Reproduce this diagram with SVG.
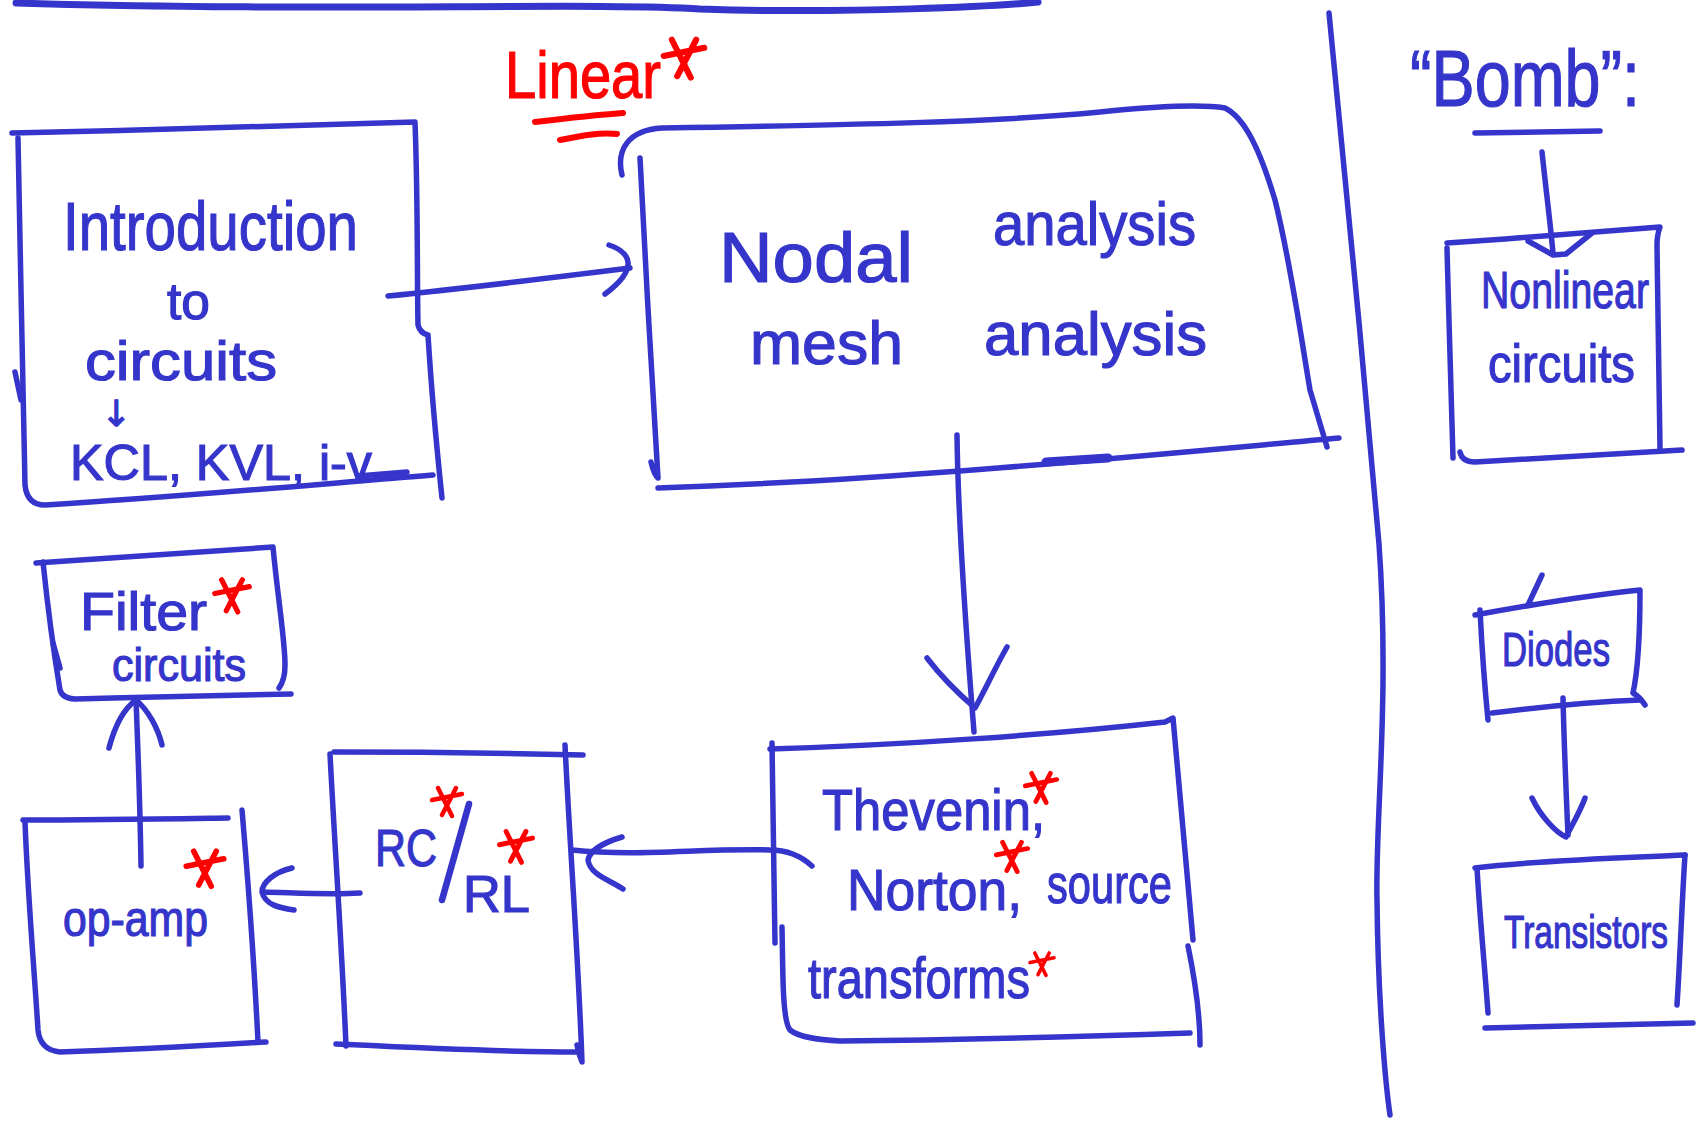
<svg xmlns="http://www.w3.org/2000/svg" width="1705" height="1121" viewBox="0 0 1705 1121">
<style>
.ln{fill:none;stroke:#3535CB;stroke-width:5.5;stroke-linecap:round;stroke-linejoin:round}
.t{font-family:"Liberation Sans",Arial,sans-serif;fill:#3535CB;stroke:#3535CB;stroke-width:1.2}
.rd{fill:none;stroke:#FF0000;stroke-width:6;stroke-linecap:round;stroke-linejoin:round}
.star{fill:none;stroke:#FF0000;stroke-width:4.5;stroke-linecap:round;stroke-linejoin:round}
</style>
<defs>
  <g id="star">
    <path class="star" d="M-15 -3 L15 -9 M-9 -15 L5 13 M9 -15 L-5 12"/>
  </g>
</defs>
<rect width="1705" height="1121" fill="#ffffff"/>

<g id="frame">
  <path class="ln" style="stroke-width:7" d="M16 3 C300 12, 600 2, 700 9 C850 14, 1000 6, 1038 2"/>
  <path class="ln" d="M1329 13 C1340 120, 1365 380, 1379 544 C1390 700, 1375 820, 1377 900 C1378 1000, 1385 1080, 1390 1115"/>
</g>

<g id="label-linear">
  <text class="t" x="505" y="98" font-size="66" textLength="156" lengthAdjust="spacingAndGlyphs" style="fill:#FF0000;stroke:#FF0000">Linear</text>
  <use href="#star" transform="translate(684 60) scale(1.35)"/>
  <path class="rd" d="M535 122 C560 119, 595 115, 623 113"/>
  <path class="rd" d="M560 140 C580 136, 600 132, 617 134"/>
</g>

<g id="label-bomb">
  <text class="t" x="1410" y="106" font-size="80" textLength="230" lengthAdjust="spacingAndGlyphs">“Bomb”:</text>
  <path class="ln" d="M1475 133 C1520 132, 1560 132, 1600 131"/>
</g>

<g id="node-intro">
  <path class="ln" d="M12 133 C150 130, 300 126, 415 122 C418 200, 417 280, 418 325 Q420 333, 428 335 C432 400, 438 460, 442 498"/>
  <path class="ln" d="M18 138 C20 250, 23 380, 25 485 Q27 505, 45 505 C180 497, 320 484, 433 475"/>
  <path class="ln" d="M15 372 L21 400"/>
  <path class="ln" d="M358 476 L407 472"/>
  <text class="t" x="63" y="250" font-size="68" textLength="295" lengthAdjust="spacingAndGlyphs">Introduction</text>
  <text class="t" x="167" y="319" font-size="52" textLength="43" lengthAdjust="spacingAndGlyphs">to</text>
  <text class="t" x="85" y="380" font-size="56" textLength="192" lengthAdjust="spacingAndGlyphs">circuits</text>
  <text class="t" x="116" y="426" font-size="36" text-anchor="middle" style="font-family:'DejaVu Sans',sans-serif">↓</text>
  <text class="t" x="70" y="480" font-size="50" textLength="302" lengthAdjust="spacingAndGlyphs">KCL, KVL, i-v</text>
</g>

<g id="node-nodal">
  <path class="ln" d="M622 175 C616 150, 628 130, 662 128 C850 125, 1000 122, 1100 112 C1160 106, 1200 104, 1225 108 C1245 118, 1260 150, 1275 200 C1290 260, 1300 330, 1310 390 L1327 447"/>
  <path class="ln" d="M640 158 C645 260, 652 380, 658 478 Q654 475, 651 462"/>
  <path class="ln" d="M658 488 C900 480, 1150 455, 1339 438"/>
  <path class="ln" style="stroke-width:9" d="M1046 462 L1108 458"/>
  <text class="t" x="719" y="282" font-size="70" textLength="194" lengthAdjust="spacingAndGlyphs">Nodal</text>
  <text class="t" x="993" y="245" font-size="62" textLength="203" lengthAdjust="spacingAndGlyphs">analysis</text>
  <text class="t" x="750" y="364" font-size="62" textLength="153" lengthAdjust="spacingAndGlyphs">mesh</text>
  <text class="t" x="984" y="355" font-size="62" textLength="223" lengthAdjust="spacingAndGlyphs">analysis</text>
</g>

<g id="node-thevenin">
  <path class="ln" d="M770 749 C900 745, 1050 735, 1165 722 L1173 718 C1180 800, 1188 880, 1193 940"/>
  <path class="ln" d="M1188 946 C1195 980, 1200 1010, 1200 1045"/>
  <path class="ln" d="M772 743 C773 820, 774 880, 775 943"/>
  <path class="ln" d="M782 927 C783 970, 782 1020, 790 1030 C800 1038, 820 1040, 840 1041 C950 1040, 1100 1036, 1190 1033"/>
  <text class="t" x="822" y="830" font-size="58" textLength="223" lengthAdjust="spacingAndGlyphs">Thevenin,</text>
  <use href="#star" transform="translate(1041 789) scale(1.05)"/>
  <text class="t" x="847" y="910" font-size="58" textLength="175" lengthAdjust="spacingAndGlyphs">Norton,</text>
  <use href="#star" transform="translate(1012 858) scale(1.05)"/>
  <text class="t" x="1047" y="903" font-size="56" textLength="125" lengthAdjust="spacingAndGlyphs">source</text>
  <text class="t" x="808" y="998" font-size="58" textLength="222" lengthAdjust="spacingAndGlyphs">transforms</text>
  <use href="#star" transform="translate(1042 965) scale(0.8)"/>
</g>

<g id="node-rc">
  <path class="ln" d="M334 752 C420 752, 500 753, 583 755"/>
  <path class="ln" d="M330 754 C335 850, 342 950, 346 1046"/>
  <path class="ln" d="M336 1044 C420 1048, 500 1052, 578 1052"/>
  <path class="ln" d="M565 745 C570 850, 578 950, 582 1062 Q579 1055, 577 1045"/>
  <text class="t" x="375" y="866" font-size="52" textLength="62" lengthAdjust="spacingAndGlyphs">RC</text>
  <path class="ln" style="stroke-width:6.5" d="M469 804 L442 900"/>
  <text class="t" x="463" y="912" font-size="52" textLength="67" lengthAdjust="spacingAndGlyphs">RL</text>
  <use href="#star" transform="translate(447 803) scale(1)"/>
  <use href="#star" transform="translate(516 848) scale(1.1)"/>
</g>

<g id="node-opamp">
  <path class="ln" d="M23 820 C100 820, 160 819, 228 818"/>
  <path class="ln" d="M25 822 C28 900, 35 980, 38 1030 Q40 1050, 60 1052 C130 1050, 200 1046, 266 1042"/>
  <path class="ln" d="M242 810 C248 880, 254 960, 258 1042"/>
  <text class="t" x="63" y="936" font-size="50" textLength="145" lengthAdjust="spacingAndGlyphs">op-amp</text>
  <use href="#star" transform="translate(205 870) scale(1.25)"/>
</g>

<g id="node-filter">
  <path class="ln" d="M36 563 C120 558, 200 552, 273 547 C278 600, 285 640, 285 665 Q285 680, 279 688"/>
  <path class="ln" d="M43 562 C48 610, 55 660, 60 690 Q62 698, 75 699 C150 697, 230 695, 291 694"/>
  <path class="ln" d="M53 643 L60 668"/>
  <text class="t" x="80" y="630" font-size="54" textLength="127" lengthAdjust="spacingAndGlyphs">Filter</text>
  <use href="#star" transform="translate(232 597) scale(1.15)"/>
  <text class="t" x="112" y="681" font-size="46" textLength="134" lengthAdjust="spacingAndGlyphs">circuits</text>
</g>

<g id="node-nonlinear">
  <path class="ln" d="M1447 243 C1520 238, 1600 232, 1660 227 Q1657 235, 1657 245 C1658 320, 1659 400, 1660 448"/>
  <path class="ln" d="M1447 248 C1449 320, 1451 400, 1453 458"/>
  <path class="ln" d="M1460 452 Q1462 462, 1475 462 C1550 458, 1620 454, 1682 450"/>
  <text class="t" x="1481" y="308" font-size="52" textLength="168" lengthAdjust="spacingAndGlyphs">Nonlinear</text>
  <text class="t" x="1488" y="382" font-size="54" textLength="147" lengthAdjust="spacingAndGlyphs">circuits</text>
</g>

<g id="node-diodes">
  <path class="ln" d="M1475 615 C1530 605, 1590 595, 1640 590 C1640 630, 1638 670, 1633 693 Q1640 697, 1645 705"/>
  <path class="ln" d="M1542 575 L1528 605"/>
  <path class="ln" d="M1480 610 C1482 650, 1485 690, 1488 720"/>
  <path class="ln" d="M1492 713 C1540 707, 1590 702, 1640 700"/>
  <text class="t" x="1502" y="666" font-size="48" textLength="108" lengthAdjust="spacingAndGlyphs">Diodes</text>
</g>

<g id="node-transistors">
  <path class="ln" d="M1475 868 C1540 860, 1620 858, 1685 855"/>
  <path class="ln" d="M1477 868 C1480 920, 1485 970, 1488 1013"/>
  <path class="ln" d="M1685 855 C1682 900, 1680 960, 1677 1005"/>
  <path class="ln" d="M1485 1028 C1560 1026, 1630 1024, 1693 1023"/>
  <text class="t" x="1504" y="948" font-size="46" textLength="164" lengthAdjust="spacingAndGlyphs">Transistors</text>
</g>

<g id="connectors">
  <path class="ln" d="M388 296 C450 290, 550 278, 630 268"/>
  <path class="ln" d="M609 245 C630 252, 640 268, 605 294"/>
  <path class="ln" d="M957 435 C958 520, 965 620, 974 732"/>
  <path class="ln" d="M927 658 C940 675, 960 695, 975 708 C985 690, 995 668, 1007 647"/>
  <path class="ln" d="M812 866 C800 855, 785 850, 770 850 C700 848, 640 857, 572 850"/>
  <path class="ln" d="M622 837 C605 842, 590 850, 588 860 C590 875, 610 880, 623 889"/>
  <path class="ln" d="M360 893 C330 895, 300 893, 263 892"/>
  <path class="ln" d="M292 868 C275 872, 262 882, 262 892 C265 905, 280 908, 294 910"/>
  <path class="ln" d="M141 866 C140 800, 138 750, 136 700"/>
  <path class="ln" d="M109 748 C115 725, 125 708, 136 700 C148 710, 158 728, 162 745"/>
  <path class="ln" d="M1542 152 C1546 190, 1550 220, 1553 253"/>
  <path class="ln" d="M1528 241 L1553 255 L1566 254 L1592 233"/>
  <path class="ln" d="M1563 698 C1564 740, 1566 790, 1568 835"/>
  <path class="ln" d="M1532 798 C1540 815, 1555 832, 1566 837 C1572 825, 1580 812, 1585 798"/>
</g>
</svg>
